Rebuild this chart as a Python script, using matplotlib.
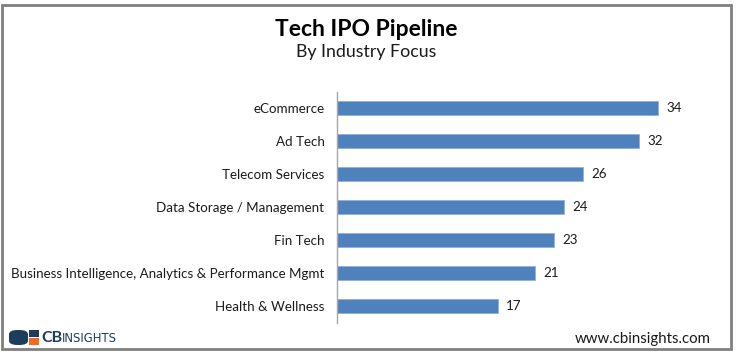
import matplotlib
matplotlib.use("Agg")
import matplotlib.pyplot as plt
from matplotlib.patches import Rectangle, FancyBboxPatch

categories = ["eCommerce", "Ad Tech", "Telecom Services", "Data Storage / Management",
              "Fin Tech", "Business Intelligence, Analytics & Performance Mgmt", "Health & Wellness"]
values = [34, 32, 26, 24, 23, 21, 17]

FONT = "Lato"
W, H = 736, 355
fig = plt.figure(figsize=(W / 100, H / 100), dpi=100)
fig.patch.set_facecolor("white")

ax = fig.add_axes([337 / W, 1 - 322.5 / H, 340 / W, (322.5 - 91.5) / H])
ypos = list(range(len(categories)))
ax.barh(ypos, values, height=0.4, color="#4F81BD", edgecolor="#8FB0DA", linewidth=0.6)
ax.set_ylim(len(categories) - 0.5, -0.5)
ax.set_xlim(0, 36)
ax.set_yticks(ypos)
ax.set_yticklabels(categories, fontsize=9.6, family=FONT, color="#1a1a1a")
ax.tick_params(axis="y", length=0, pad=9)
ax.set_xticks([])
for s in ["top", "right", "bottom"]:
    ax.spines[s].set_visible(False)
ax.spines["left"].set_color("#A6A6A6")
ax.spines["left"].set_linewidth(1)
for y, v in zip(ypos, values):
    ax.annotate(str(v), (v, y), xytext=(6, 0), textcoords="offset points",
                va="center", ha="left", fontsize=9.6, family=FONT, color="#1a1a1a")

fig.text(366 / W, 1 - 29 / H, "Tech IPO Pipeline", ha="center", va="center",
         fontsize=16.5, fontweight="bold", family=FONT, color="black")
fig.text(366 / W, 1 - 52 / H, "By Industry Focus", ha="center", va="center",
         fontsize=12.8, family=FONT, color="#1a1a1a")

# border
fig.patches.append(Rectangle((2 / W, 1 - 349 / H), 729 / W, 344 / H, transform=fig.transFigure,
                             fill=False, edgecolor="#808080", linewidth=2))

# logo
navy = "#1D3C5E"
orange = "#F26B21"
fig.patches.append(FancyBboxPatch((9 / W, 1 - 345 / H), 19 / W, 15 / H, transform=fig.transFigure,
                                  boxstyle="round,pad=0,rounding_size=0.012", facecolor=navy, edgecolor="none"))
fig.patches.append(Rectangle((29 / W, 1 - 337 / H), 10 / W, 7 / H, transform=fig.transFigure,
                             facecolor=navy, edgecolor="none"))
fig.patches.append(Rectangle((29 / W, 1 - 345 / H), 10 / W, 7 / H, transform=fig.transFigure,
                             facecolor=orange, edgecolor="none"))
fig.text(41 / W, 1 - 337.5 / H, "CB", ha="left", va="center", fontsize=11.5, fontweight="bold",
         family=FONT, color=navy)
fig.text(62 / W, 1 - 338.5 / H, "INSIGHTS", ha="left", va="center", fontsize=8.4,
         family="DejaVu Sans", color=navy)

fig.text(711 / W, 1 - 339 / H, "www.cbinsights.com", ha="right", va="center",
         fontsize=10.8, family=FONT, color="#1a1a1a")

fig.savefig("out.png", dpi=100)
